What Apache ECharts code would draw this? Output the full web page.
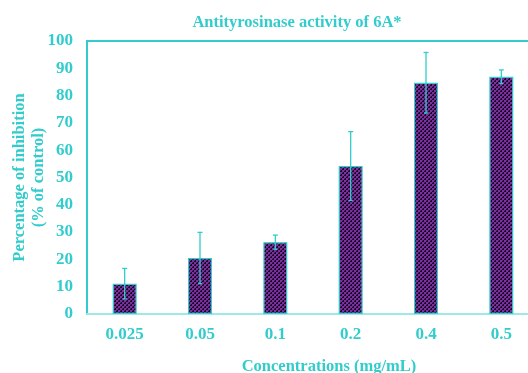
<!DOCTYPE html>
<html>
<head>
<meta charset="utf-8">
<script src="https://cdn.jsdelivr.net/npm/echarts@6/dist/echarts.min.js"></script>
<style>
  html, body { margin: 0; padding: 0; background: #fff; }
  #chart { width: 528px; height: 373px; }
</style>
</head>
<body>
<div id="chart"></div>
<script>
// Tyrosinase inhibition by concentration (mean ± SD)
const concentrations = ['0.025', '0.05', '0.1', '0.2', '0.4', '0.5'];
const inhibition = [11.1, 20.5, 26.3, 54.2, 84.7, 86.9];
const errors = [5.6, 9.4, 2.6, 12.6, 11.1, 2.5];
const yTicks = [0, 10, 20, 30, 40, 50, 60, 70, 80, 90, 100];

const TEAL = '#33CCCC';
const FONT = '"Liberation Serif", "Times New Roman", serif';

// Checkered purple fill for the bars
function makePattern() {
  const c = document.createElement('canvas');
  c.width = 4; c.height = 4;
  const g = c.getContext('2d');
  g.fillStyle = '#1a0a24';
  g.fillRect(0, 0, 4, 4);
  g.fillStyle = '#7b2fa3';
  g.fillRect(0, 0, 2, 2);
  g.fillRect(2, 2, 2, 2);
  g.fillStyle = '#5a2278';
  g.fillRect(2, 0, 1, 1);
  g.fillRect(0, 2, 1, 1);
  return c;
}

const chart = echarts.init(document.getElementById('chart'));
chart.setOption({
  animation: false,
  title: {
    text: 'Antityrosinase activity of 6A*',
    left: 292, top: 9, textAlign: 'center',
    textStyle: { color: TEAL, fontFamily: FONT, fontWeight: 'bold', fontSize: 16.5 }
  },
  grid: {
    left: 87, top: 41, bottom: 59, width: 452,
    outerBoundsMode: 'none',
    containLabel: false,
    show: true, borderColor: TEAL, borderWidth: 2, backgroundColor: 'transparent'
  },
  xAxis: {
    type: 'category',
    data: concentrations,
    name: 'Concentrations (mg/mL)',
    nameLocation: 'middle',
    nameGap: 44,
    nameTextStyle: { color: TEAL, fontFamily: FONT, fontWeight: 'bold', fontSize: 16.5, padding: [0, 0, 0, 32] },
    axisLine: { show: true, lineStyle: { color: '#9fe8e8', width: 2 } },
    axisTick: { show: false },
    axisLabel: { color: TEAL, fontFamily: FONT, fontWeight: 'bold', fontSize: 17, margin: 12 }
  },
  yAxis: {
    type: 'value',
    min: yTicks[0], max: yTicks[yTicks.length - 1], interval: 10,
    name: 'Percentage of inhibition\n(% of control)',
    nameLocation: 'middle',
    nameGap: 39,
    nameMoveOverlap: false,
    nameTextStyle: { color: TEAL, fontFamily: FONT, fontWeight: 'bold', fontSize: 16.5, lineHeight: 19 },
    axisLine: { show: true, lineStyle: { color: TEAL, width: 2 } },
    axisTick: { show: false },
    splitLine: { show: false },
    axisLabel: { color: TEAL, fontFamily: FONT, fontWeight: 'bold', fontSize: 17, margin: 14 }
  },
  series: [
    {
      type: 'bar',
      data: inhibition,
      barWidth: 24,
      itemStyle: {
        color: { image: makePattern(), repeat: 'repeat' },
        borderColor: TEAL, borderWidth: 1.2
      }
    },
    {
      type: 'custom',
      data: inhibition.map((v, i) => [i, v - errors[i], v + errors[i]]),
      renderItem: function (params, api) {
        const lo = api.coord([api.value(0), api.value(1)]);
        const hi = api.coord([api.value(0), api.value(2)]);
        const x = lo[0];
        const style = { stroke: TEAL, lineWidth: 1.3 };
        return {
          type: 'group',
          children: [
            { type: 'line', shape: { x1: x, y1: lo[1], x2: x, y2: hi[1] }, style },
            { type: 'line', shape: { x1: x - 2.5, y1: hi[1], x2: x + 2.5, y2: hi[1] }, style },
            { type: 'line', shape: { x1: x - 2, y1: lo[1], x2: x + 2, y2: lo[1] }, style }
          ]
        };
      },
      z: 5
    }
  ]
});
</script>
</body>
</html>
